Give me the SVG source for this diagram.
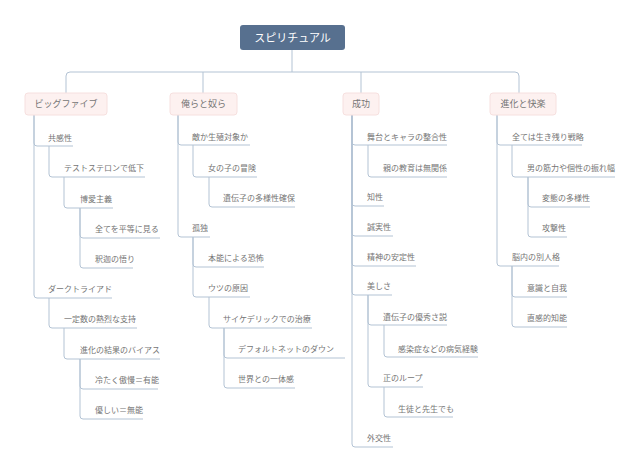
<svg xmlns="http://www.w3.org/2000/svg" width="640" height="472" viewBox="0 0 640 472">
<style>
text{font-family:"Noto Sans CJK JP","Noto Sans",sans-serif;}
.t{font-size:8px;fill:#757575;}
.m{font-size:9px;fill:#757575;text-anchor:middle;}
.r{font-size:11px;fill:#fff;text-anchor:middle;}
.box{fill:#fdf1f0;stroke:#f6e0df;stroke-width:1;}
.c path{fill:none;stroke:#b3c3d4;stroke-width:1;}
</style>
<rect width="640" height="472" fill="#fff"/>
<g class="c" id="connectors">
<path d="M292,50 V72"/>
<path d="M66,93 V76 Q66,72 70,72 H515 Q519,72 519,76 V93"/>
<path d="M203,72 V93"/>
<path d="M361,72 V93"/>
<path d="M34,115 V143 Q34,146 37,146 H73"/>
<path d="M49,146 V174 Q49,177 52,177 H145"/>
<path d="M64,177 V205 Q64,208 67,208 H113"/>
<path d="M80,208 V235 Q80,238 83,238 H160"/>
<path d="M80,208 V265 Q80,268 83,268 H133"/>
<path d="M34,115 V295 Q34,298 37,298 H112"/>
<path d="M49,298 V325 Q49,328 52,328 H137"/>
<path d="M64,328 V356 Q64,359 67,359 H160"/>
<path d="M80,359 V386 Q80,389 83,389 H158"/>
<path d="M80,359 V416 Q80,419 83,419 H143"/>
<path d="M178,115 V142 Q178,145 181,145 H250"/>
<path d="M193,145 V174 Q193,177 196,177 H257"/>
<path d="M209,177 V204 Q209,207 212,207 H295"/>
<path d="M178,115 V234 Q178,237 181,237 H210"/>
<path d="M193,237 V264 Q193,267 196,267 H264"/>
<path d="M193,237 V294 Q193,297 196,297 H250"/>
<path d="M209,297 V325 Q209,328 212,328 H312"/>
<path d="M224,328 V355 Q224,358 227,358 H345"/>
<path d="M224,328 V385 Q224,388 227,388 H295"/>
<path d="M352,115 V142 Q352,145 355,145 H447"/>
<path d="M368,145 V174 Q368,177 371,177 H447"/>
<path d="M352,115 V203 Q352,206 355,206 H384"/>
<path d="M352,115 V233 Q352,236 355,236 H393"/>
<path d="M352,115 V263 Q352,266 355,266 H416"/>
<path d="M352,115 V292 Q352,295 355,295 H392"/>
<path d="M368,295 V322 Q368,325 371,325 H447"/>
<path d="M384,325 V354 Q384,357 387,357 H478"/>
<path d="M368,295 V384 Q368,387 371,387 H423"/>
<path d="M384,387 V414 Q384,417 387,417 H453"/>
<path d="M352,115 V444 Q352,447 355,447 H393"/>
<path d="M497,115 V142 Q497,145 500,145 H582"/>
<path d="M512,145 V174 Q512,177 515,177 H615"/>
<path d="M528,177 V204 Q528,207 531,207 H590"/>
<path d="M528,177 V234 Q528,237 531,237 H567"/>
<path d="M497,115 V263 Q497,266 500,266 H559"/>
<path d="M512,266 V294 Q512,297 515,297 H567"/>
<path d="M512,266 V324 Q512,327 515,327 H567"/>
</g>
<g id="root"><rect x="240" y="25" width="105" height="25" rx="3" fill="#57708f"/><text class="r" x="292.5" y="41.5">スピリチュアル</text></g>
<g id="bigfive"><rect class="box" x="25" y="93" width="82" height="22" rx="3"/><text class="m" x="66" y="107">ビッグファイブ</text></g>
<g id="orera"><rect class="box" x="170" y="93" width="67" height="22" rx="3"/><text class="m" x="203.5" y="107">俺らと奴ら</text></g>
<g id="seikou"><rect class="box" x="343" y="93" width="36" height="22" rx="3"/><text class="m" x="361" y="107">成功</text></g>
<g id="shinka"><rect class="box" x="490" y="93" width="66" height="22" rx="3"/><text class="m" x="523" y="107">進化と快楽</text></g>

<g id="b1"><text class="t" x="48" y="141">共感性</text></g>
<g id="b2"><text class="t" x="64" y="171">テストステロンで低下</text></g>
<g id="b3"><text class="t" x="80" y="202">博愛主義</text></g>
<g id="b4"><text class="t" x="95" y="232">全てを平等に見る</text></g>
<g id="b5"><text class="t" x="95" y="262">釈迦の悟り</text></g>
<g id="b6"><text class="t" x="48" y="292">ダークトライアド</text></g>
<g id="b7"><text class="t" x="64" y="322">一定数の熱烈な支持</text></g>
<g id="b8"><text class="t" x="80" y="353">進化の結果のバイアス</text></g>
<g id="b9"><text class="t" x="95" y="383">冷たく傲慢＝有能</text></g>
<g id="b10"><text class="t" x="95" y="413">優しい＝無能</text></g>

<g id="o1"><text class="t" x="192" y="140">敵か生殖対象か</text></g>
<g id="o2"><text class="t" x="208" y="171">女の子の冒険</text></g>
<g id="o3"><text class="t" x="223" y="201">遺伝子の多様性確保</text></g>
<g id="o4"><text class="t" x="192" y="231">孤独</text></g>
<g id="o5"><text class="t" x="208" y="261">本能による恐怖</text></g>
<g id="o6"><text class="t" x="208" y="291">ウツの原因</text></g>
<g id="o7"><text class="t" x="223" y="322">サイケデリックでの治療</text></g>
<g id="o8"><text class="t" x="238" y="352">デフォルトネットのダウン</text></g>
<g id="o9"><text class="t" x="238" y="382">世界との一体感</text></g>

<g id="s1"><text class="t" x="367" y="140">舞台とキャラの整合性</text></g>
<g id="s2"><text class="t" x="383" y="171">親の教育は無関係</text></g>
<g id="s3"><text class="t" x="367" y="200">知性</text></g>
<g id="s4"><text class="t" x="367" y="230">誠実性</text></g>
<g id="s5"><text class="t" x="367" y="260">精神の安定性</text></g>
<g id="s6"><text class="t" x="367" y="289">美しさ</text></g>
<g id="s7"><text class="t" x="383" y="320">遺伝子の優秀さ説</text></g>
<g id="s8"><text class="t" x="398" y="352">感染症などの病気経験</text></g>
<g id="s9"><text class="t" x="383" y="381">正のループ</text></g>
<g id="s10"><text class="t" x="398" y="412">生徒と先生でも</text></g>
<g id="s11"><text class="t" x="367" y="441">外交性</text></g>

<g id="k1"><text class="t" x="512" y="140">全ては生き残り戦略</text></g>
<g id="k2"><text class="t" x="527" y="171">男の筋力や個性の振れ幅</text></g>
<g id="k3"><text class="t" x="542" y="201">変態の多様性</text></g>
<g id="k4"><text class="t" x="542" y="231">攻撃性</text></g>
<g id="k5"><text class="t" x="512" y="260">脳内の別人格</text></g>
<g id="k6"><text class="t" x="527" y="291">意識と自我</text></g>
<g id="k7"><text class="t" x="527" y="321">直感的知能</text></g>
</svg>
